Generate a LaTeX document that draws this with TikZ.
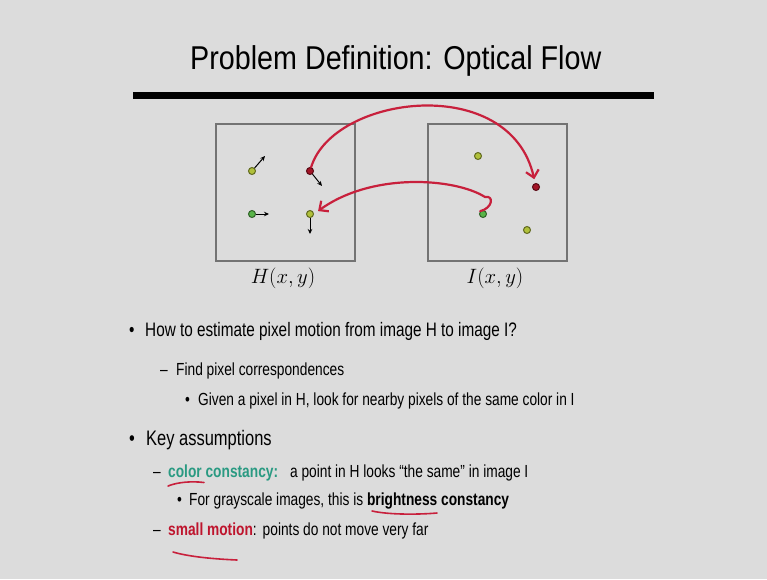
\documentclass[tikz,border=0pt]{standalone}
\usepackage{fontspec}
\setmainfont{Liberation Sans}
\newfontfamily\titlefont[FakeStretch=0.87]{Liberation Sans}
\newfontfamily\bodyfont[FakeStretch=0.785]{Liberation Sans}
\usetikzlibrary{arrows.meta}
\definecolor{slidebg}{HTML}{DCDCDC}
\definecolor{penred}{HTML}{C8203C}
\definecolor{keyteal}{HTML}{2A9A82}
\definecolor{keyred}{HTML}{BE142D}
\definecolor{dotyel}{HTML}{B0C03A}
\definecolor{dotgrn}{HTML}{58B448}
\definecolor{dotred}{HTML}{A31426}

\begin{document}
\begin{tikzpicture}[x=1pt, y=-1pt,
  txt/.style={anchor=base west, inner sep=0pt, font=\fontsize{17.5}{18}\selectfont\bodyfont},
  pixdot/.style={circle, draw=#1!55!black, fill=#1, minimum size=7pt, inner sep=0pt, line width=1pt},
  motion/.style={-{Stealth[length=5pt,width=4.5pt]}, line width=1pt},
  ink/.style={draw=penred, line width=2.2pt, line cap=round},
  frame/.style={draw=black!55, line width=1.3pt, minimum width=139pt, minimum height=137pt, inner sep=0pt},
  lab/.style={anchor=base, inner sep=0pt, font=\fontsize{21}{21}\selectfont}]
  \fill[slidebg] (0,0) rectangle (767,579);

  % title and rule
  \node[anchor=base west, inner sep=0pt, font=\fontsize{33}{33}\selectfont\titlefont] (title) at (190,69) {Problem Definition: Optical Flow};
  \fill[black] (133,92) rectangle (654,99);

  % the two frames
  \node[frame] (H) at (285.5,192.5) {};
  \node[frame] (I) at (497.5,192.5) {};
  \node[lab] (Hlab) at (283,283) {$H(x,y)$};
  \node[lab] (Ilab) at (495,283) {$I(x,y)$};

  % pixels in H with their motion
  \node[pixdot=dotyel] (Ha) at (252,171) {};
  \node[pixdot=dotred] (Hr) at (310,171) {};
  \node[pixdot=dotgrn] (Hg) at (252,214) {};
  \node[pixdot=dotyel] (Hy) at (310,214) {};
  \coordinate (va) at (265,156);
  \coordinate (vr) at (322,186);
  \coordinate (vg) at (269,214);
  \coordinate (vy) at (310,234);
  \draw[motion] (Ha) -- (va);
  \draw[motion] (Hr) -- (vr);
  \draw[motion] (Hg) -- (vg);
  \draw[motion] (Hy) -- (vy);

  % pixels in I
  \node[pixdot=dotyel] (Ia) at (478,156) {};
  \node[pixdot=dotred] (Ir) at (536,187) {};
  \node[pixdot=dotgrn] (Ig) at (483,214) {};
  \node[pixdot=dotyel] (Iy) at (527,230) {};

  % hand drawn correspondences
  \draw[ink, -{Straight Barb[length=7pt,width=13pt]}, shorten >=4pt] (Hr) .. controls (333,95) and (510,72) .. (Ir);
  \draw[ink, -{Straight Barb[length=7pt,width=13pt]}, shorten >=5pt] (Ig.north west) .. controls (493,208) and (494,195) .. (485,197)
     .. controls (455,178) and (372,172) .. (Hy.east);

  % bullets
  \node[txt, font=\fontsize{19.5}{20}\selectfont\bodyfont] (q1) at (129,336) {\makebox[16pt][l]{•}How to estimate pixel motion from image H to image I?};
  \node[txt] (q2) at (160,375) {\makebox[16pt][l]{–}Find pixel correspondences};
  \node[txt] (q3) at (185,405) {\makebox[13pt][l]{•}Given a pixel in H, look for nearby pixels of the same color in I};
  \node[txt, font=\fontsize{21}{21}\selectfont\bodyfont] (k1) at (129,445) {\makebox[17pt][l]{•}Key assumptions};
  \node[txt] (k2) at (153,477) {\makebox[15pt][l]{–}{\bfseries\color{keyteal}color constancy:}\hspace{12pt}a point in H looks “the same” in image I};
  \node[txt] (k3) at (177,505) {\makebox[12pt][l]{•}For grayscale images, this is \textbf{brightness constancy}};
  \node[txt] (k4) at (153,535) {\makebox[15pt][l]{–}{\bfseries\color{keyred}small motion}:\hspace{6pt}points do not move very far};

  % underlines
  \draw[ink, line width=1.6pt] (168,486) .. controls (178,482) and (192,481) .. (204,482.5);
  \draw[ink, line width=1.6pt] (372,511) .. controls (390,515) and (420,514.5) .. (437,513);
  \draw[ink, line width=1.6pt] (173,552) .. controls (190,557) and (215,559) .. (237,560);
\end{tikzpicture}
\end{document}
